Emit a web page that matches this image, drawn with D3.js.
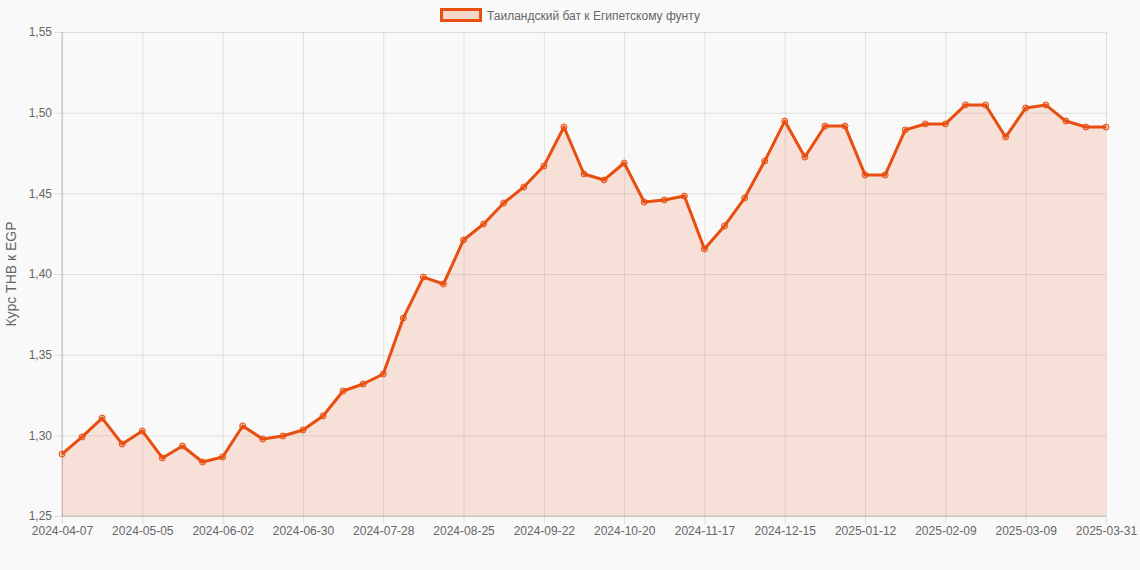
<!DOCTYPE html>
<html>
<head>
  <meta charset="utf-8">
  <script src="https://cdn.jsdelivr.net/npm/d3@7"></script>
  <style>
    html, body { margin: 0; padding: 0; background: #f9f9f9; }
    svg { display: block; font-family: "Liberation Sans", Arial, sans-serif; }
  </style>
</head>
<body>
<script>
// weekly dates (category axis)
var dates = [
  "2024-04-07","2024-04-14","2024-04-21","2024-04-28","2024-05-05","2024-05-12","2024-05-19","2024-05-26",
  "2024-06-02","2024-06-09","2024-06-16","2024-06-23","2024-06-30","2024-07-07","2024-07-14","2024-07-21",
  "2024-07-28","2024-08-04","2024-08-11","2024-08-18","2024-08-25","2024-09-01","2024-09-08","2024-09-15",
  "2024-09-22","2024-09-29","2024-10-06","2024-10-13","2024-10-20","2024-10-27","2024-11-03","2024-11-10",
  "2024-11-17","2024-11-24","2024-12-01","2024-12-08","2024-12-15","2024-12-22","2024-12-29","2025-01-05",
  "2025-01-12","2025-01-19","2025-01-26","2025-02-02","2025-02-09","2025-02-16","2025-02-23","2025-03-02",
  "2025-03-09","2025-03-16","2025-03-23","2025-03-30","2025-03-31"
];

// THB -> EGP rate
var rates = [
  1.2884, 1.2990, 1.3107, 1.2946, 1.3027, 1.2860, 1.2934, 1.2835,
  1.2866, 1.3058, 1.2977, 1.2996, 1.3033, 1.3120, 1.3275, 1.3318,
  1.3380, 1.3727, 1.3981, 1.3938, 1.4211, 1.4310, 1.4440, 1.4539,
  1.4669, 1.4911, 1.4620, 1.4583, 1.4688, 1.4446, 1.4459, 1.4483,
  1.4155, 1.4298, 1.4471, 1.4700, 1.4948, 1.4725, 1.4917, 1.4917,
  1.4614, 1.4614, 1.4893, 1.4930, 1.4930, 1.5048, 1.5048, 1.4849,
  1.5029, 1.5048, 1.4948, 1.4911, 1.4911
];

var tickLabels = ["2024-04-07","2024-05-05","2024-06-02","2024-06-30","2024-07-28","2024-08-25",
  "2024-09-22","2024-10-20","2024-11-17","2024-12-15","2025-01-12","2025-02-09","2025-03-09","2025-03-31"];
var yTicks = [1.25, 1.30, 1.35, 1.40, 1.45, 1.50, 1.55];

var seriesName = "Таиландский бат к Египетскому фунту";
var yTitle = "Курс THB к EGP";

var W = 1140, H = 570;
var m = {top: 32, right: 34, bottom: 54, left: 62};
var lineColor = "#e84e0f";
var fillColor = "rgba(232,78,15,0.14)";
var textColor = "#666";

var svg = d3.select("body").append("svg").attr("width", W).attr("height", H);

var x = d3.scalePoint().domain(dates).range([m.left, W - m.right]);
var y = d3.scaleLinear().domain([1.25, 1.55]).range([H - m.bottom, m.top]);

var fmt = function (v) { return d3.format(".2f")(v).replace(".", ","); };

// horizontal grid + y ticks
var yAxis = d3.axisLeft(y).tickValues(yTicks).tickFormat(fmt)
  .tickSize(-(W - m.right - m.left) - 8).tickPadding(4);
var gy = svg.append("g").attr("transform", "translate(" + (m.left - 8) + ",0)").call(yAxis);
gy.select(".domain").remove();
gy.selectAll("line").attr("stroke", "rgba(0,0,0,0.1)").attr("x1", 0).attr("x2", W - m.right - m.left + 8);
gy.selectAll("text").attr("fill", textColor).style("font-size", "12px").attr("x", -2);

// vertical grid + x ticks
var xAxis = d3.axisBottom(x).tickValues(tickLabels)
  .tickSize(-(H - m.bottom - m.top) - 8).tickPadding(10);
var gx = svg.append("g").attr("transform", "translate(0," + (H - m.bottom + 8) + ")").call(xAxis);
gx.select(".domain").remove();
gx.selectAll("line").attr("stroke", "rgba(0,0,0,0.1)");
gx.selectAll("text").attr("fill", textColor).style("font-size", "12px").attr("dy", "0.1em");

// axis lines
svg.append("line").attr("x1", m.left).attr("x2", m.left).attr("y1", m.top).attr("y2", H - m.bottom)
  .attr("stroke", "rgba(0,0,0,0.2)");
svg.append("line").attr("x1", m.left).attr("x2", W - m.right).attr("y1", H - m.bottom).attr("y2", H - m.bottom)
  .attr("stroke", "rgba(0,0,0,0.2)");

// area fill
var area = d3.area()
  .x(function (d, i) { return x(dates[i]); })
  .y0(y(1.25))
  .y1(function (d) { return y(d); });
svg.append("path").datum(rates).attr("d", area).attr("fill", fillColor);

// line
var line = d3.line()
  .x(function (d, i) { return x(dates[i]); })
  .y(function (d) { return y(d); });
svg.append("path").datum(rates).attr("d", line)
  .attr("fill", "none").attr("stroke", lineColor).attr("stroke-width", 3)
  .attr("stroke-linejoin", "round");

// points
svg.selectAll("circle.pt").data(rates).enter().append("circle")
  .attr("class", "pt")
  .attr("cx", function (d, i) { return x(dates[i]); })
  .attr("cy", function (d) { return y(d); })
  .attr("r", 3)
  .attr("fill", "rgba(232,78,15,0.3)")
  .attr("stroke", lineColor)
  .attr("stroke-width", 1);

// y title
svg.append("text")
  .attr("transform", "translate(16," + ((m.top + H - m.bottom) / 2) + ") rotate(-90)")
  .attr("text-anchor", "middle")
  .attr("fill", textColor)
  .style("font-size", "14px")
  .text(yTitle);

// legend
var lg = svg.append("g");
lg.append("rect").attr("x", 441.5).attr("y", 9.5).attr("width", 39).attr("height", 11)
  .attr("fill", "rgba(232,78,15,0.2)").attr("stroke", lineColor).attr("stroke-width", 3);
lg.append("text").attr("x", 487).attr("y", 19.5).attr("fill", textColor)
  .style("font-size", "12px").text(seriesName);
</script>
</body>
</html>
